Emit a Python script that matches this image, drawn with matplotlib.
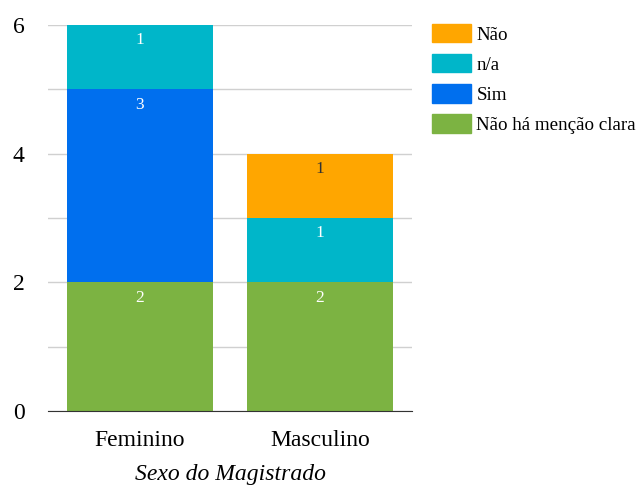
import matplotlib.pyplot as plt
import numpy as np
from matplotlib.patches import Patch

plt.rcParams['font.family'] = ['Liberation Serif', 'DejaVu Serif']

# dados
categorias = ['Feminino', 'Masculino']
series = ['Não há menção clara', 'Sim', 'n/a', 'Não']
nao_ha_mencao = [2, 2]
sim = [3, 0]
n_a = [1, 1]
nao = [0, 1]
valores = [nao_ha_mencao, sim, n_a, nao]
cores = ['#7cb342', '#006fee', '#00b6c9', '#ffa600']
cor_texto = ['white', 'white', 'white', '#333333']

fig = plt.figure(figsize=(6.37, 4.86), dpi=100)
ax = fig.add_axes([0.0754, 0.1543, 0.5714, 0.7943])

x = np.arange(len(categorias))
base = np.zeros(len(categorias))
for vals, cor, ct in zip(valores, cores, cor_texto):
    vals = np.array(vals, dtype=float)
    ax.bar(x, vals, 0.81, bottom=base, color=cor, zorder=2)
    for xi, b, v in zip(x, base, vals):
        if v > 0:
            ax.annotate(str(int(v)), (xi, b + v), xytext=(0, -11), textcoords='offset points',
                        ha='center', va='center', color=ct, fontsize=12.5, zorder=3)
    base += vals

ax.set_xlim(-0.51, 1.51)
ax.set_ylim(0, 6)
ax.set_yticks([0, 2, 4, 6])
ax.set_yticks([1, 3, 5], minor=True)
ax.grid(axis='y', which='both', color='#d0d0d0', lw=1, zorder=0)
ax.set_xticks(x)
ax.set_xticklabels(categorias, fontsize=17)
ax.tick_params(axis='y', labelsize=17, length=0, pad=17, which='both')
ax.tick_params(axis='x', length=0, pad=14)
for s in ['top', 'right', 'left']:
    ax.spines[s].set_visible(False)
ax.spines['bottom'].set_color('#333333')
ax.spines['bottom'].set_zorder(4)
ax.set_xlabel('Sexo do Magistrado', fontsize=17, style='italic', labelpad=9)

handles = [Patch(color=c, label=s) for s, c in zip(series, cores)][::-1]
fig.legend(handles=handles, loc='upper left', bbox_to_anchor=(0.667, 0.966), frameon=False,
           fontsize=13.7, handlelength=2.0, handleheight=1.1, labelspacing=0.55, handletextpad=0.3,
           borderaxespad=0)

fig.savefig('out.png', dpi=100)
